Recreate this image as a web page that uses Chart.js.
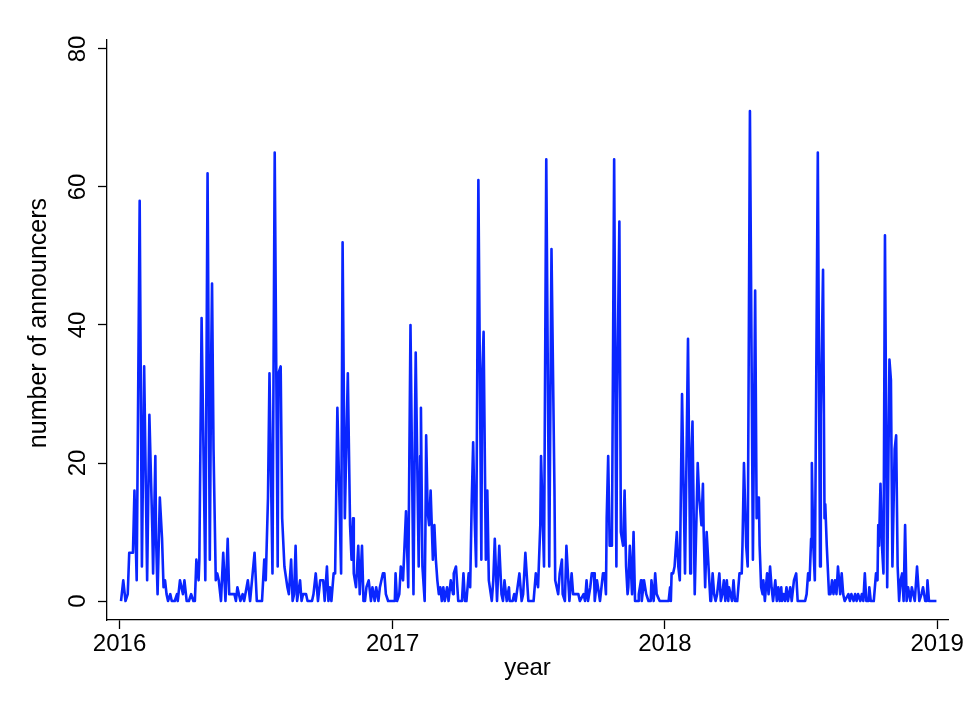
<!DOCTYPE html>
<html>
<head>
<meta charset="utf-8">
<script src="https://cdn.jsdelivr.net/npm/chart.js@4"></script>
<style>
html,body{margin:0;padding:0;background:#fff}
#wrap{width:967px;height:706px;position:relative}
</style>
</head>
<body>
<div id="wrap"><canvas id="c" width="967" height="706"></canvas></div>
<script>
// Day number counted from 2016-01-01 (day 0) for each vertex of the series
const dayIndex = [
  2,5,8,11,13,18,20,23,27,30,33,37,40,44,45,48,49,51,54,57,59,61,63,65,68,70,74,77,78,81,85,87,90,93,96,99,101,
  103,106,107,110,115,118,121,123,124,126,129,131,133,136,139,142,145,147,154,156,158,162,165,167,172,175,181,184,191,
  194,196,199,201,205,208,212,213,216,218,221,225,227,230,232,234,236,238,242,244,246,250,252,258,260,263,266,269,273,275,278,280,282,284,287,289,
  292,297,299,302,306,309,311,313,314,317,320,322,325,327,329,331,334,337,339,342,344,347,349,353,355,357,360,369,
  370,372,375,377,380,384,387,390,394,396,397,401,403,404,406,409,410,411,413,415,417,420,422,424,426,428,430,432,434,436,439,441,444,447,448,451,454,459,461,463,465,468,470,
  472,474,476,478,481,485,486,488,491,493,495,499,501,503,506,509,512,514,516,519,522,523,527,529,531,536,539,541,544,548,555,558,561,
  564,565,569,572,576,579,583,584,586,588,590,593,594,597,599,603,606,608,613,615,617,622,624,626,628,631,633,636,637,640,644,648,650,652,
  653,655,657,660,663,666,667,670,672,675,677,679,681,682,684,687,689,691,695,696,699,700,703,706,709,712,713,716,718,720,724,736,
  738,739,740,742,744,747,749,751,754,758,762,765,766,768,771,775,777,780,782,783,785,787,789,792,793,795,797,799,801,804,806,808,810,812,814,816,817,821,823,825,828,831,834,
  835,837,840,842,845,849,852,854,855,857,858,860,862,863,865,868,870,872,874,876,879,881,883,885,887,888,890,892,894,896,899,901,904,907,909,919,
  921,923,925,927,928,930,932,936,939,940,943,945,946,948,951,953,955,957,959,961,963,966,968,970,972,977,979,981,984,986,988,990,993,995,997,999,1001,1004,1005,1007,1011,
  1014,1016,1017,1018,1020,1022,1024,1026,1029,1032,1034,1036,1039,1041,1043,1045,1047,1049,1051,1053,1055,1057,1060,1062,1064,1066,1069,1072,1075,1077,1080,1082,1083,1085,1095
];
// Number of announcers at each vertex
const announcers = [
  0,3,0,1,7,7,16,3,58,5,34,3,27,10,4,21,9,1,15,9,2,3,1,0,1,0,0,1,0,3,1,3,0,0,1,0,0,
  6,3,6,41,3,62,6,37,46,22,3,4,3,0,7,0,9,1,1,0,2,0,1,0,3,0,7,0,0,
  6,3,15,33,4,65,5,33,34,12,5,2,1,6,0,1,8,0,3,0,1,1,0,0,1,4,0,3,3,0,5,0,2,0,4,4,
  28,4,52,12,33,11,6,12,4,2,8,1,8,0,0,2,3,0,2,0,2,0,2,4,4,1,0,0,
  4,0,1,5,3,13,2,40,1,26,36,5,21,28,5,0,10,24,13,11,16,6,11,6,3,1,2,0,2,0,2,0,3,1,4,5,0,0,4,0,0,4,2,
  14,23,12,5,61,6,32,39,6,16,3,0,3,9,0,8,1,0,3,0,2,0,0,1,0,4,0,1,7,0,0,4,2,
  11,21,5,64,5,51,16,3,2,1,4,6,1,0,8,0,4,1,1,1,0,1,0,3,0,2,4,4,0,3,0,4,4,1,
  12,21,8,8,64,5,29,55,10,8,16,5,1,2,8,1,10,0,0,1,3,0,3,1,0,0,3,0,4,1,0,0,
  2,0,4,4,5,10,5,3,30,4,38,4,19,26,1,20,15,11,17,10,2,10,6,0,0,4,1,0,1,4,0,1,3,0,3,0,2,0,3,0,0,4,4,
  8,20,8,5,71,6,45,12,15,15,8,2,1,3,0,4,1,5,2,0,3,0,2,0,2,0,1,0,2,0,2,0,3,4,0,0,
  1,4,3,9,20,8,3,65,5,27,48,12,14,8,1,1,3,1,3,1,5,1,4,1,0,1,0,1,0,1,0,1,0,1,0,4,0,0,2,0,0,
  4,3,11,8,17,8,4,53,2,35,32,5,22,24,5,0,3,4,0,11,0,2,0,2,1,0,5,0,1,2,0,0,3,0,0
];
// x-axis ticks: first day of each year, and their labels
const yearTickDays = [0, 366, 731, 1096];
const yearTickLabels = ['2016', '2017', '2018', '2019'];
// y-axis ticks
const countTicks = [0, 20, 40, 60, 80];

if (dayIndex.length !== announcers.length) console.error('length mismatch', dayIndex.length, announcers.length);

const FONT = "'Liberation Sans', Arial, Helvetica, sans-serif";
const points = dayIndex.map((d, i) => ({ x: d, y: announcers[i] }));

new Chart(document.getElementById('c'), {
  type: 'line',
  data: {
    datasets: [{
      data: points,
      borderColor: '#0a26ff',
      borderWidth: 2.6,
      borderJoinStyle: 'round',
      pointRadius: 0,
      tension: 0,
      fill: false
    }]
  },
  options: {
    responsive: false,
    animation: false,
    devicePixelRatio: 1,
    layout: { padding: { left: 0, right: 19, top: 40, bottom: 0 }, autoPadding: false },
    plugins: { legend: { display: false }, tooltip: { enabled: false } },
    scales: {
      x: {
        type: 'linear',
        min: -16.8,
        max: 1110.5,
        afterBuildTicks: s => { s.ticks = yearTickDays.map(v => ({ value: v })); },
        afterFit: s => { s.height = 86; },
        ticks: {
          callback: (v, i) => yearTickLabels[i],
          font: { family: FONT, size: 24 },
          color: '#000',
          padding: 1,
          maxRotation: 0,
          autoSkip: false
        },
        grid: { drawOnChartArea: false, drawTicks: true, tickLength: 9, tickColor: '#000', tickWidth: 1.3 },
        border: { display: true, color: '#000', width: 1.3 },
        title: {
          display: true, text: 'year', color: '#000',
          font: { family: FONT, size: 24 },
          padding: { top: 0, bottom: 23 }
        }
      },
      y: {
        type: 'linear',
        min: -2.75,
        max: 81.3,
        afterBuildTicks: s => { s.ticks = countTicks.map(v => ({ value: v })); },
        afterFit: s => { s.width = 107; },
        ticks: {
          minRotation: 90,
          maxRotation: 90,
          crossAlign: 'center',
          padding: 6,
          font: { family: FONT, size: 24 },
          color: '#000',
          autoSkip: false
        },
        grid: { drawOnChartArea: false, drawTicks: true, tickLength: 9, tickColor: '#000', tickWidth: 1.3 },
        border: { display: true, color: '#000', width: 1.3 },
        title: {
          display: true, text: '  number of announcers', color: '#000',
          font: { family: FONT, size: 25 },
          padding: { top: 24, bottom: 0 }
        }
      }
    }
  }
});
</script>
</body>
</html>
